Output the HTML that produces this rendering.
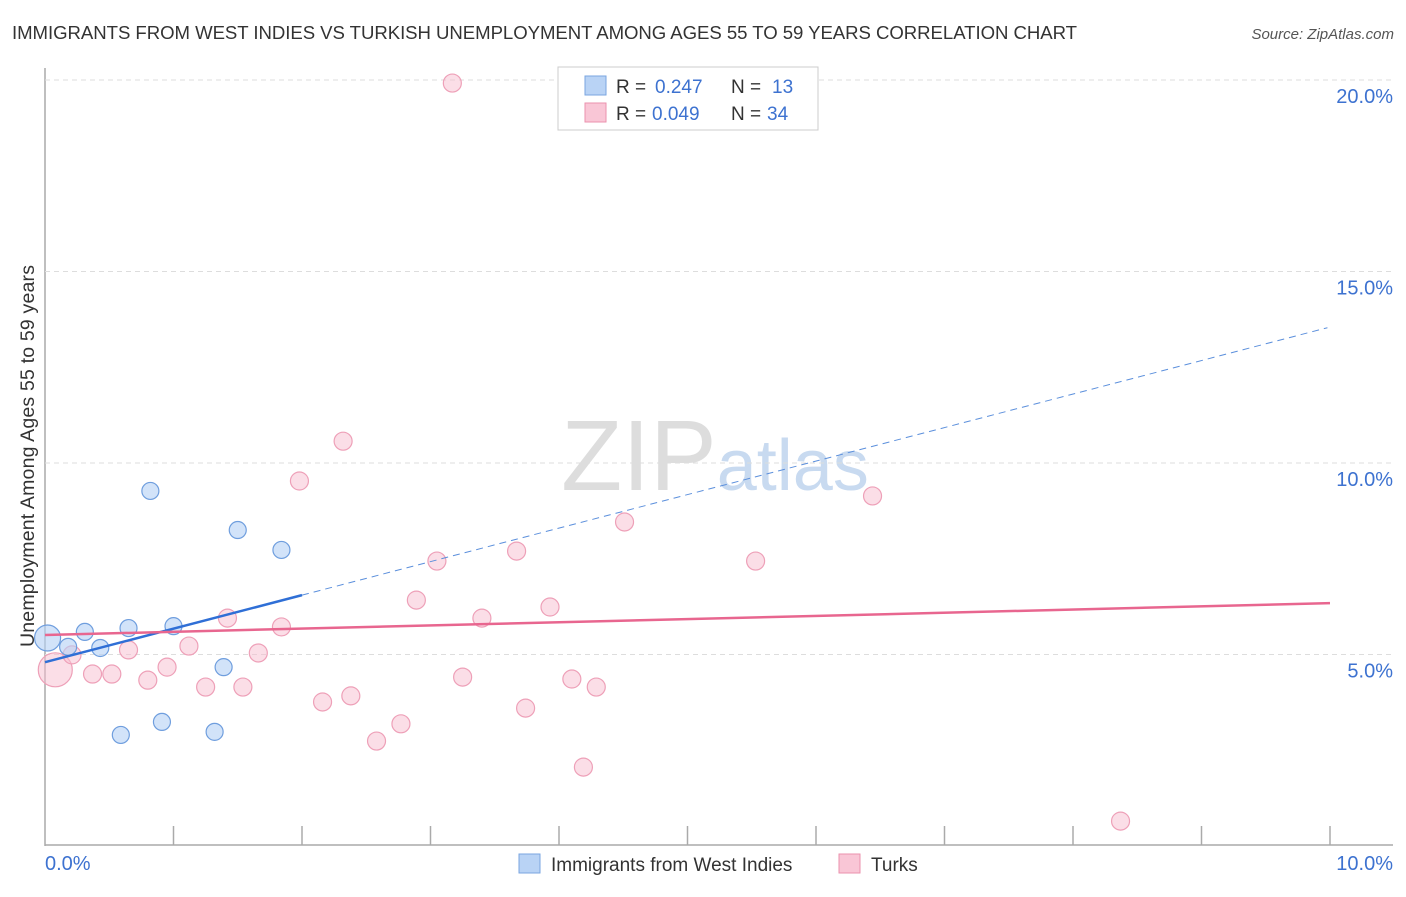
<!DOCTYPE html>
<html><head><meta charset="utf-8"><style>
body{margin:0;background:#fff;font-family:"Liberation Sans",sans-serif;}
svg text{font-family:"Liberation Sans",sans-serif;}
</style></head><body>
<svg id="c" width="1406" height="892" xmlns="http://www.w3.org/2000/svg">
<text x="12" y="39" font-size="18.6" fill="#333" textLength="1065">IMMIGRANTS FROM WEST INDIES VS TURKISH UNEMPLOYMENT AMONG AGES 55 TO 59 YEARS CORRELATION CHART</text>
<text x="1394" y="39" font-size="15" fill="#555" text-anchor="end" font-style="italic">Source: ZipAtlas.com</text>
<text x="715" y="490" font-size="100" fill="#ddd" text-anchor="middle" font-family="Liberation Serif">ZIP<tspan fill="#c8daf0" font-family="Liberation Sans" font-size="72">atlas</tspan></text>
<text transform="translate(34,456) rotate(-90)" font-size="19.5" fill="#333" text-anchor="middle" textLength="382">Unemployment Among Ages 55 to 59 years</text>
<g id="grid"></g><g id="marks"></g>
<rect x="558" y="67" width="260" height="63" fill="#fff" stroke="#ccc"/>
<rect x="585" y="76" width="21" height="19" fill="#b9d3f5" stroke="#7aa6e0"/>
<rect x="585" y="103" width="21" height="19" fill="#f9c6d6" stroke="#eb92ae"/>
<g font-size="19" fill="#333">
<text x="616" y="93">R =</text><text x="655" y="93" fill="#3d72d0">0.247</text>
<text x="731" y="93">N =</text><text x="772" y="93" fill="#3d72d0">13</text>
<text x="616" y="120">R =</text><text x="652" y="120" fill="#3d72d0">0.049</text>
<text x="731" y="120">N =</text><text x="767" y="120" fill="#3d72d0">34</text>
</g>
<rect x="519" y="854" width="21" height="19" fill="#b9d3f5" stroke="#7aa6e0"/>
<text x="551" y="871" font-size="19" fill="#333">Immigrants from West Indies</text>
<rect x="839" y="854" width="21" height="19" fill="#f9c6d6" stroke="#eb92ae"/>
<text x="871" y="871" font-size="19" fill="#333">Turks</text>
</svg>
<script>
const xTicks=[0,1,2,3,4,5,6,7,8,9,10];
const yTicks=[5,10,15,20];
const blueX=[0.02,0.18,0.31,0.43,0.65,0.82,0.91,1.00,0.59,1.32,1.39,1.50,1.84];
const blueY=[5.43,5.20,5.59,5.17,5.69,9.27,3.24,5.74,2.90,2.98,4.67,8.25,7.73];
const pinkX=[0.08,0.21,0.37,0.52,0.65,0.80,0.95,1.12,1.25,1.42,1.54,1.66,1.84,1.98,2.16,2.32,2.38,2.58,2.77,2.89,3.05,3.17,3.25,3.40,3.67,3.74,3.93,4.10,4.19,4.29,4.51,5.53,6.44,8.37];
const pinkY=[4.60,4.99,4.49,4.49,5.12,4.33,4.67,5.22,4.15,5.95,4.15,5.04,5.72,9.53,3.76,10.57,3.92,2.74,3.19,6.42,7.44,19.92,4.41,5.95,7.70,3.60,6.24,4.36,2.06,4.15,8.46,7.44,9.14,0.65];
const blueTrend=[4.80,13.55];
const pinkTrend=[5.51,6.34];
const NS="http://www.w3.org/2000/svg";
const X=v=>45+v*128.5, Y=v=>846-v*38.3;
function mk(tag,attrs,parent){const e=document.createElementNS(NS,tag);for(const k in attrs)e.setAttribute(k,attrs[k]);document.getElementById(parent).appendChild(e);return e;}
const ax=mk('line',{x1:45,y1:68,x2:45,y2:846,stroke:'#aaa','stroke-width':1.5},'grid');


const bx=mk('line',{x1:45,y1:845,x2:1393,y2:845,stroke:'#aaa','stroke-width':1.5},'grid');


yTicks.forEach(t=>{
 const g=mk('line',{x1:45,y1:Y(t),x2:1393,y2:Y(t),stroke:'#ddd','stroke-dasharray':'5,4'},'grid');
 
 
 const l=mk('text',{x:1393,y:Y(t)+23,'font-size':20,fill:'#3d72d0','text-anchor':'end'},'grid');
 l.textContent=t.toFixed(1)+'%';
 
 
});
xTicks.forEach(t=>{
 if(t>0){const k=mk('line',{x1:X(t),y1:826,x2:X(t),y2:845,stroke:'#aaa','stroke-width':1.5},'grid');
 
 }
});
[[0,'start',45],[10,'end',1393]].forEach(([t,a,px])=>{
 const l=mk('text',{x:px,y:870,'font-size':20,fill:'#3d72d0','text-anchor':a},'grid');
 l.textContent=t.toFixed(1)+'%';
 
 
});
pinkX.forEach((x,i)=>{
 const c=mk('circle',{cx:X(x),cy:Y(pinkY[i]),r:i==0?17:9,fill:'rgba(248,190,208,0.5)',stroke:'#eea0b8','stroke-width':1.2},'marks');
 
 
});
blueX.forEach((x,i)=>{
 const c=mk('circle',{cx:X(x),cy:Y(blueY[i]),r:i==0?13:8.5,fill:'rgba(180,208,245,0.6)',stroke:'#6f9ede','stroke-width':1.2},'marks');
 
 
});
const by=x=>blueTrend[0]+(blueTrend[1]-blueTrend[0])*x/10;
const bs=mk('line',{x1:X(0),y1:Y(by(0)),x2:X(2),y2:Y(by(2)),stroke:'#2f6fd6','stroke-width':2.5},'marks');


const bd=mk('line',{x1:X(2),y1:Y(by(2)),x2:X(9.98),y2:Y(by(9.98)),stroke:'#5b8fdc','stroke-width':1,'stroke-dasharray':'7,5'},'marks');


const pl=mk('line',{x1:X(0),y1:Y(pinkTrend[0]),x2:X(10),y2:Y(pinkTrend[1]),stroke:'#e8668f','stroke-width':2.5},'marks');


</script>
</body></html>
